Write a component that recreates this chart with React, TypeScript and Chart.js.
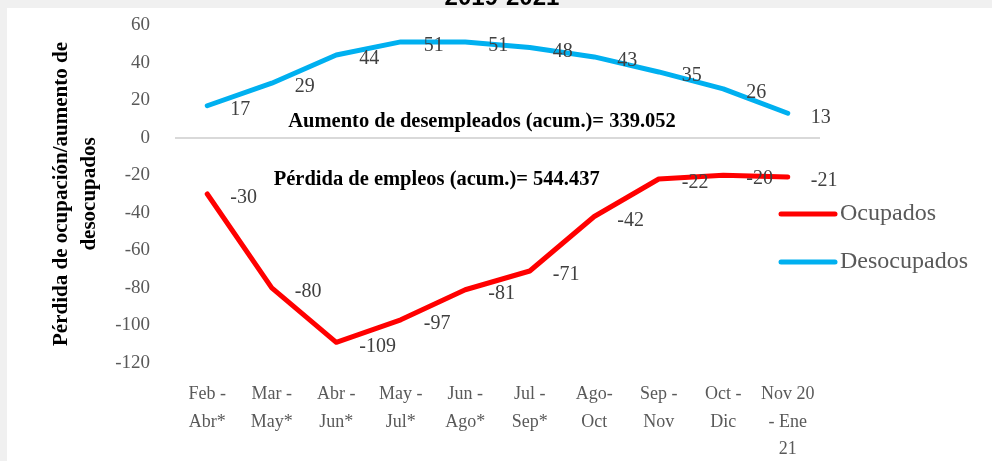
import React, { useEffect, useRef } from "react";
import { Chart, registerables } from "chart.js";

Chart.register(...registerables);

const categories: string[][] = [
  ["Feb -", "Abr*"],
  ["Mar -", "May*"],
  ["Abr -", "Jun*"],
  ["May -", "Jul*"],
  ["Jun -", "Ago*"],
  ["Jul -", "Sep*"],
  ["Ago-", "Oct"],
  ["Sep -", "Nov"],
  ["Oct -", "Dic"],
  ["Nov 20", "- Ene", "21"],
];
const ocupados = [-30, -80, -109, -97, -81, -71, -42, -22, -20, -21];
const desocupados = [17, 29, 44, 51, 51, 48, 43, 35, 26, 13];
const seriesNames = ["Ocupados", "Desocupados"];
const seriesColors = ["#FF0000", "#00B0F0"];
const yTitle = ["Pérdida de ocupación/aumento de", "desocupados"];
const titleText = "2019-2021";
const noteUp = "Aumento de desempleados (acum.)= 339.052";
const noteDown = "Pérdida de empleos (acum.)= 544.437";

const SERIF = "'Liberation Serif', serif";

export default function App() {
  const ref = useRef<HTMLCanvasElement | null>(null);

  useEffect(() => {
    document.body.style.margin = "0";
    const canvas = ref.current;
    if (!canvas) return;

    const decor = {
      id: "decor",
      beforeDraw(chart: any) {
        const { ctx, width, height } = chart;
        ctx.save();
        ctx.fillStyle = "#ffffff";
        ctx.fillRect(0, 0, width, height);
        ctx.fillStyle = "#f0f0f0";
        ctx.fillRect(0, 0, width, 8);
        ctx.fillRect(0, 0, 7, height);
        ctx.restore();
      },
      afterDatasetsDraw(chart: any) {
        const { ctx } = chart;
        ctx.save();
        ctx.font = `20px ${SERIF}`;
        ctx.fillStyle = "#404040";
        ctx.textAlign = "left";
        ctx.textBaseline = "middle";
        chart.data.datasets.forEach((ds: any, i: number) => {
          const meta = chart.getDatasetMeta(i);
          meta.data.forEach((pt: any, j: number) => {
            ctx.fillText(String(ds.data[j]), pt.x + 23, pt.y + 4);
          });
        });
        ctx.restore();
      },
      afterDraw(chart: any) {
        const { ctx, chartArea, scales } = chart;
        const xs = scales.x;
        const ys = scales.y;
        ctx.save();
        // cut-off title
        ctx.font = `bold 24px 'Liberation Sans', sans-serif`;
        ctx.fillStyle = "#000000";
        ctx.textAlign = "center";
        ctx.textBaseline = "alphabetic";
        ctx.fillText(titleText, 502, 5);
        // annotations
        ctx.font = `bold 20.5px ${SERIF}`;
        ctx.textBaseline = "middle";
        ctx.textAlign = "center";
        ctx.fillText(noteUp, xs.getPixelForValue(4.26), ys.getPixelForValue(8.5));
        ctx.textAlign = "left";
        ctx.fillText(noteDown, xs.getPixelForValue(1.03), ys.getPixelForValue(-22.4));
        // legend
        const lx = chartArea.right - 39;
        const ly = [214, 262];
        chart.data.datasets.forEach((ds: any, i: number) => {
          ctx.strokeStyle = ds.borderColor;
          ctx.lineWidth = 5;
          ctx.lineCap = "round";
          ctx.beginPath();
          ctx.moveTo(lx, ly[i]);
          ctx.lineTo(lx + 54, ly[i]);
          ctx.stroke();
          ctx.font = `24px ${SERIF}`;
          ctx.fillStyle = "#595959";
          ctx.textAlign = "left";
          ctx.textBaseline = "middle";
          ctx.fillText(ds.label, lx + 59, ly[i]);
        });
        ctx.restore();
      },
    };

    const chart = new Chart(canvas, {
      type: "line",
      data: {
        labels: categories,
        datasets: [
          {
            label: seriesNames[0],
            data: ocupados,
            borderColor: seriesColors[0],
            backgroundColor: seriesColors[0],
            borderWidth: 5,
            pointRadius: 0,
            tension: 0,
            borderCapStyle: "round",
            borderJoinStyle: "round",
          },
          {
            label: seriesNames[1],
            data: desocupados,
            borderColor: seriesColors[1],
            backgroundColor: seriesColors[1],
            borderWidth: 5,
            pointRadius: 0,
            tension: 0,
            borderCapStyle: "round",
            borderJoinStyle: "round",
          },
        ],
      },
      options: {
        responsive: false,
        animation: false,
        layout: { padding: { top: 25, right: 172, bottom: 0, left: 0 } },
        plugins: {
          legend: { display: false },
          title: { display: false },
          tooltip: { enabled: false },
        },
        scales: {
          x: {
            offset: true,
            grid: { display: false },
            border: { display: false },
            ticks: {
              maxRotation: 0,
              autoSkip: false,
              padding: 9,
              color: "#595959",
              font: { family: SERIF, size: 18, lineHeight: 1.55 },
            },
            afterFit: (s: any) => {
              s.height = 98;
            },
          },
          y: {
            min: -120,
            max: 60,
            grid: {
              drawTicks: true,
              tickLength: 23,
              tickColor: "rgba(0,0,0,0)",
              lineWidth: 2,
              color: (c: any) => (c.tick && c.tick.value === 0 ? "#d9d9d9" : "rgba(0,0,0,0)"),
            },
            border: { display: false },
            ticks: {
              stepSize: 20,
              padding: 2,
              color: "#595959",
              font: { family: SERIF, size: 19 },
            },
            title: {
              display: true,
              text: yTitle,
              color: "#000000",
              padding: { top: 48, bottom: 0 },
              font: { family: SERIF, size: 21, weight: "bold", lineHeight: 1.33 },
            },
            afterFit: (s: any) => {
              s.width = 175;
            },
          },
        },
      },
      plugins: [decor],
    } as any);

    return () => chart.destroy();
  }, []);

  return (
    <div style={{ width: 992, height: 461 }}>
      <canvas ref={ref} width={992} height={461} style={{ display: "block" }} />
    </div>
  );
}
